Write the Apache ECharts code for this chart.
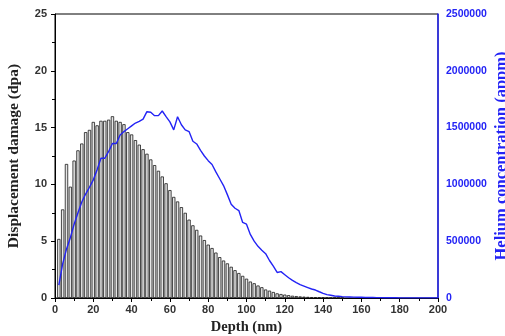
<!DOCTYPE html>
<html>
<head>
<meta charset="utf-8">
<script src="https://cdn.jsdelivr.net/npm/echarts@6/dist/echarts.min.js"></script>
<style>
  html, body { margin: 0; padding: 0; background: #fff; }
  #chart { width: 505px; height: 336px; }
</style>
</head>
<body>
<div id="chart"></div>
<script>
// depth bins (nm)
const depth = [
  2, 4, 6, 8, 10, 12, 14, 16, 18, 20, 22, 24, 26, 28, 30, 32, 34, 36, 38, 40,
  42, 44, 46, 48, 50, 52, 54, 56, 58, 60, 62, 64, 66, 68, 70, 72, 74, 76, 78, 80,
  82, 84, 86, 88, 90, 92, 94, 96, 98, 100, 102, 104, 106, 108, 110, 112, 114, 116, 118, 120,
  122, 124, 126, 128, 130, 132, 134, 136, 138, 140, 142, 144, 146, 148, 150, 152, 154, 156, 158, 160,
  162, 164, 166, 168, 170, 172, 174, 176, 178, 180, 182, 184, 186, 188, 190, 192, 194, 196, 198, 200
]

// displacement damage (dpa), one bar per depth bin up to 150 nm
const damage = [
  5.2, 7.8, 11.8, 9.8, 12.1, 13.0, 13.6, 14.6, 14.8, 15.5, 15.2, 15.6, 15.6, 15.7, 16.0,
  15.6, 15.5, 15.3, 14.6, 14.4, 13.9, 13.5, 13.1, 12.7,
  12.2, 11.7, 11.2, 10.7, 10.1, 9.5, 8.9, 8.5, 8.0, 7.5, 6.9, 6.4, 6.0, 5.5, 5.1,
  4.7, 4.4, 4.0, 3.6, 3.3, 3.05, 2.75, 2.45, 2.2, 1.95, 1.7, 1.45, 1.3, 1.1, 0.95,
  0.75, 0.65, 0.53, 0.41, 0.35, 0.3, 0.25, 0.2, 0.17, 0.14, 0.12, 0.1, 0.08, 0.07,
  0.06, 0.05, 0.04, 0.03, 0.03, 0.02, 0.02
]

// helium concentration (appm)
const helium = [
  114000, 300000, 430000, 530000, 650000, 750000, 845000, 915000, 975000, 1040000,
  1130000, 1230000, 1230000, 1290000, 1360000, 1360000, 1435000, 1465000, 1490000, 1515000,
  1540000, 1555000, 1575000, 1640000, 1635000, 1605000, 1605000, 1646000, 1596000, 1550000,
  1480000, 1596000, 1525000, 1480000, 1465000, 1380000, 1356000, 1300000, 1250000, 1209000,
  1175000, 1110000, 1050000, 990000, 910000, 825000, 790000, 770000, 665000, 650000,
  560000, 500000, 455000, 420000, 390000, 330000, 280000, 225000, 232000, 205000,
  178000, 155000, 135000, 118000, 105000, 92000, 79000, 70000, 55000, 41000,
  30000, 24000, 18000, 15000, 12000, 10000, 9000, 8000, 7000, 6000,
  5000, 4000, 4000, 3000, 3000, 2000, 2000, 2000, 2000, 1000,
  1000, 1000, 1000, 1000, 1000, 1000, 1000, 1000, 1000, 1000
]

const blue = '#2323f5'
const tickFont = { fontFamily: 'Liberation Sans', fontWeight: 'bold', fontSize: 11 }
const nameFont = { fontFamily: 'Liberation Serif', fontWeight: 'bold', fontSize: 15.5 }

const chart = echarts.init(document.getElementById('chart'))
chart.setOption({
  animation: false,
  grid: {
    left: 55, right: 67, top: 14, bottom: 38,
    outerBoundsMode: 'none',
    containLabel: false,
    show: true, borderColor: '#000', borderWidth: 1
  },
  xAxis: {
    type: 'value',
    min: 0, max: 200, interval: 20,
    name: 'Depth (nm)',
    nameLocation: 'middle',
    nameGap: 22,
    nameTextStyle: { ...nameFont, fontSize: 14.5, color: '#222' },
    axisLine: { lineStyle: { color: '#000', width: 1 } },
    axisTick: { inside: false, length: 4, lineStyle: { color: '#000' } },
    minorTick: { show: true, splitNumber: 2, length: 3, lineStyle: { color: '#000' } },
    axisLabel: { ...tickFont, color: '#333', margin: 6 },
    splitLine: { show: false }
  },
  yAxis: [
    {
      type: 'value',
      min: 0, max: 25, interval: 5,
      name: 'Displacement damage (dpa)',
      nameLocation: 'middle',
      nameGap: 33,
      nameRotate: 90,
      nameTextStyle: { ...nameFont, color: '#222' },
      axisLine: { show: true, lineStyle: { color: '#000', width: 1 } },
      axisTick: { show: true, inside: false, length: 4, lineStyle: { color: '#000' } },
      minorTick: { show: true, splitNumber: 2, length: 3, lineStyle: { color: '#000' } },
      axisLabel: { ...tickFont, color: '#333', margin: 8 },
      splitLine: { show: false }
    },
    {
      type: 'value',
      position: 'right',
      min: 0, max: 2500000, interval: 500000,
      name: 'Helium concentration (appm)',
      nameLocation: 'middle',
      nameGap: 55,
      nameRotate: 90,
      nameMoveOverlap: false,
      nameTextStyle: { ...nameFont, fontSize: 16.5, color: blue },
      axisLine: { show: true, lineStyle: { color: blue, width: 1.5 } },
      axisTick: { show: false },
      axisLabel: { ...tickFont, fontSize: 10.5, color: blue, margin: 8, formatter: v => String(v) },
      splitLine: { show: false }
    }
  ],
  series: [
    {
      name: 'Displacement damage',
      type: 'bar',
      yAxisIndex: 0,
      barWidth: 3.3,
      itemStyle: { color: '#e6e6e6', borderColor: '#1a1a1a', borderWidth: 0.8 },
      data: damage.map((v, i) => [depth[i], v])
    },
    {
      name: 'Helium concentration',
      type: 'line',
      yAxisIndex: 1,
      showSymbol: false,
      lineStyle: { color: blue, width: 1.4 },
      data: helium.map((v, i) => [depth[i], v]),
      z: 5
    }
  ]
})
</script>
</body>
</html>
